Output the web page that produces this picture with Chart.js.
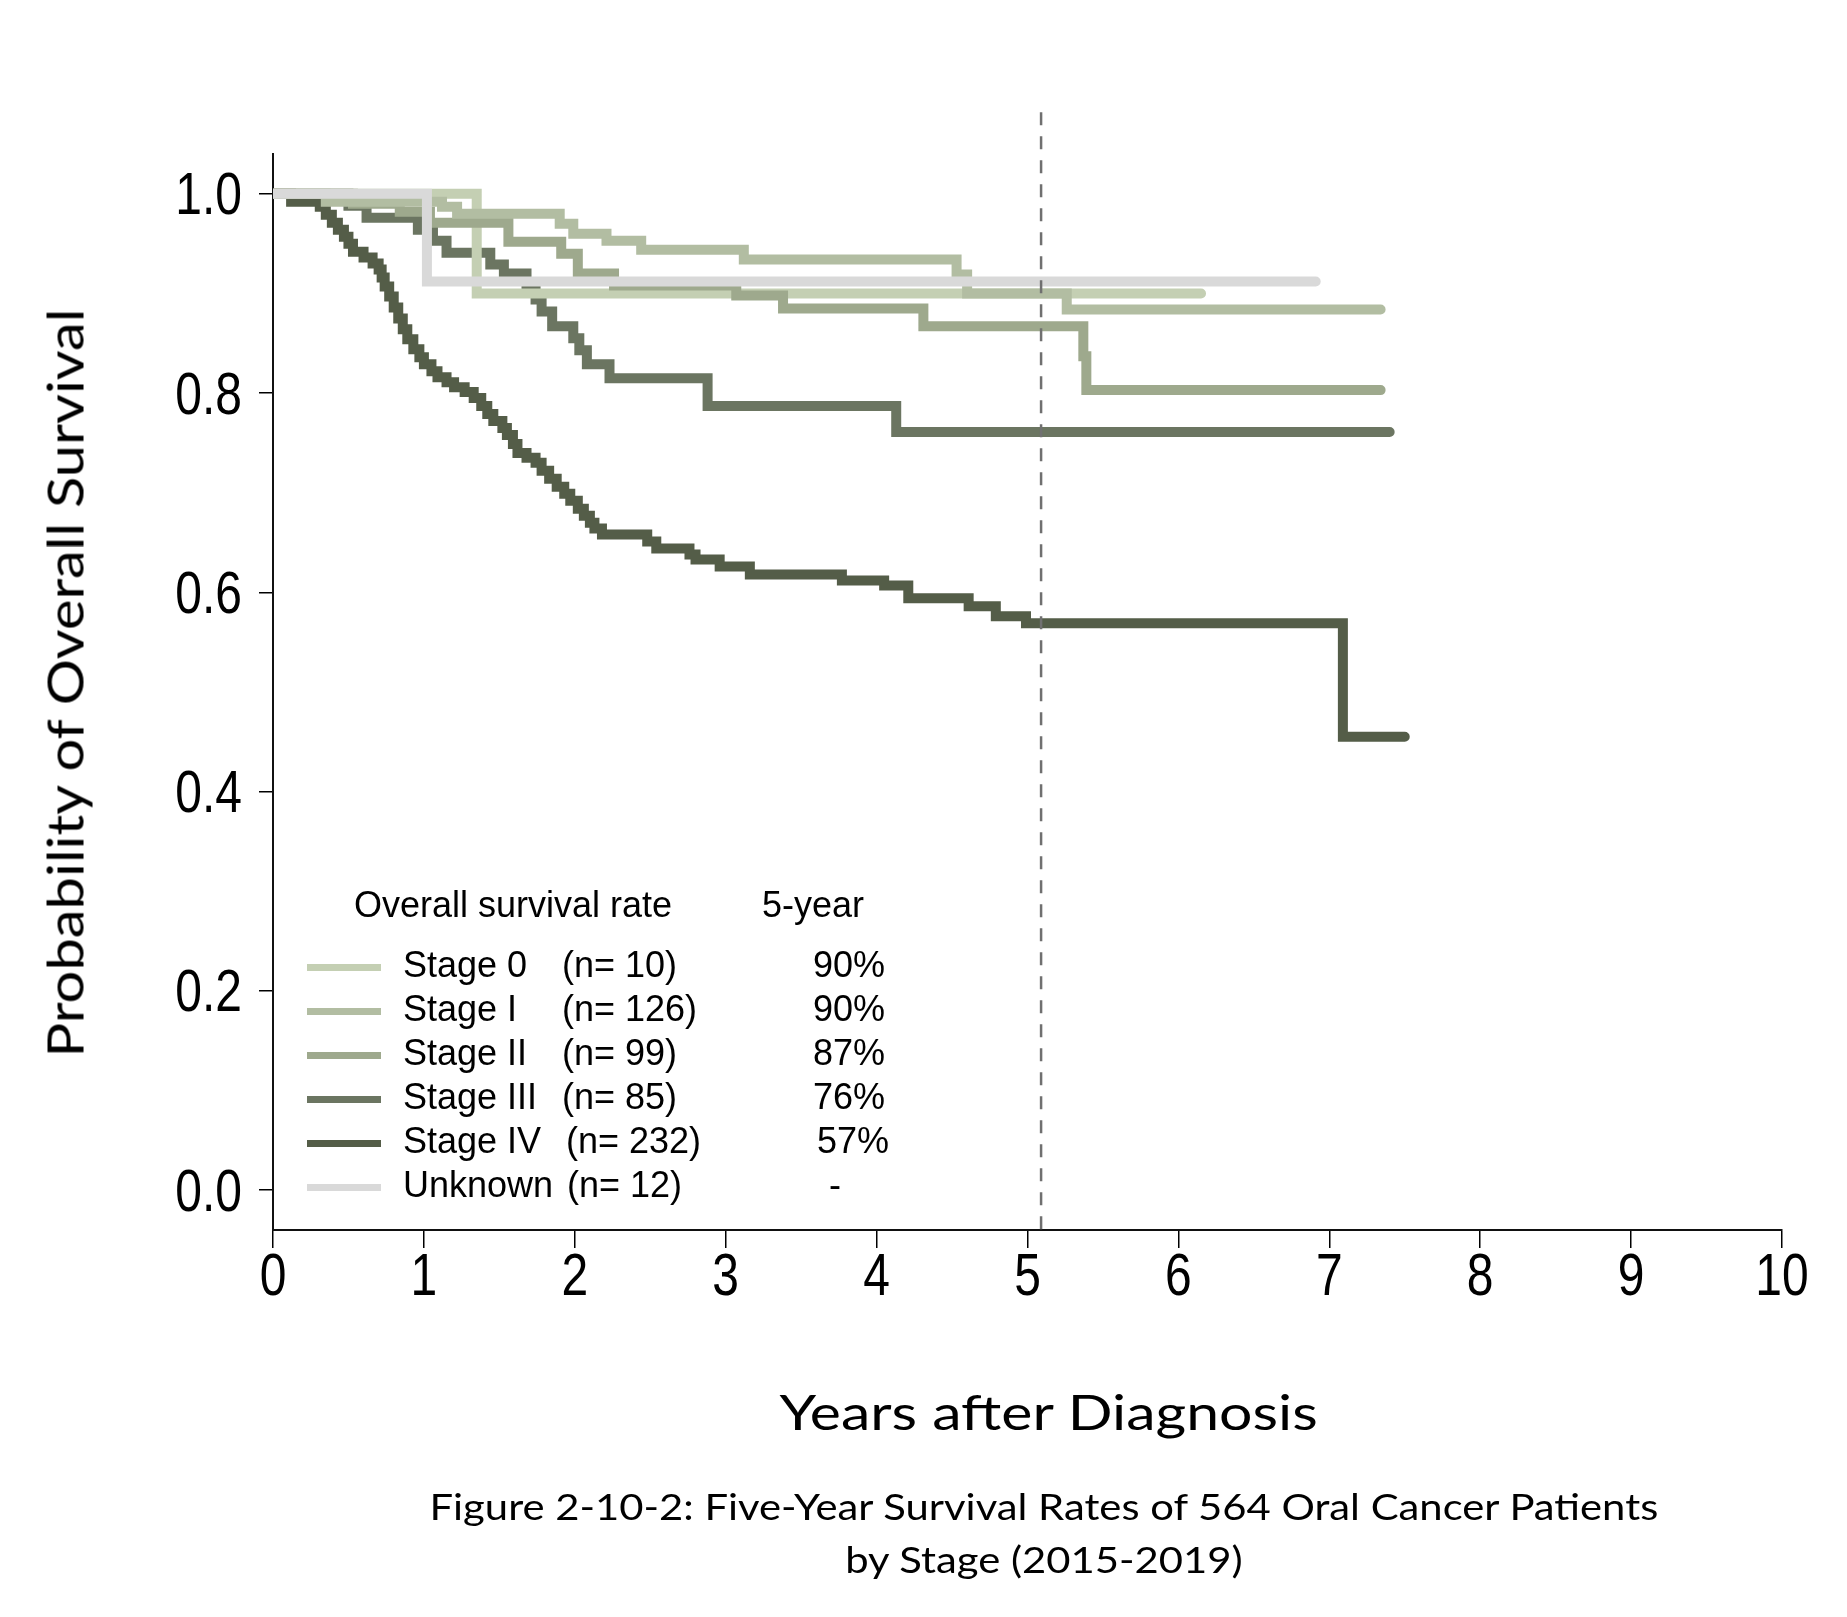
<!DOCTYPE html>
<html>
<head>
<meta charset="utf-8">
<script src="https://cdn.jsdelivr.net/npm/chart.js@4.4.1/dist/chart.umd.min.js"></script>
<style>
html,body{margin:0;padding:0;background:#fff;}
#wrap{position:relative;width:1847px;height:1617px;overflow:hidden;background:#fff;}
#c{position:absolute;left:0;top:0;}
.t{position:absolute;white-space:nowrap;line-height:1;color:#000;}
.lg{font-family:'Liberation Sans',Arial,sans-serif;font-size:36px;}
.ti{font-family:Lato,'Open Sans',sans-serif;}
.sw{position:absolute;height:7px;width:74px;}
</style>
</head>
<body>
<div id="wrap">
<canvas id="c" width="1847" height="1617"></canvas>
<div id="legend"></div>
<div id="ytitle" class="t ti" style="font-size:51px">Probability of Overall Survival</div>
<div id="xtitle" class="t ti" style="font-size:49px">Years after Diagnosis</div>
<div id="cap1" class="t ti" style="font-size:37px">Figure 2-10-2: Five-Year Survival Rates of 564 Oral Cancer Patients</div>
<div id="cap2" class="t ti" style="font-size:37px">by Stage (2015-2019)</div>
</div>
<script>
// ---------- data ----------
const stageNames = ['Stage 0', 'Stage I', 'Stage II', 'Stage III', 'Stage IV', 'Unknown'];
const stageN = ['(n= 10)', '(n= 126)', '(n= 99)', '(n= 85)', '(n= 232)', '(n= 12)'];
const fiveYearRates = ['90%', '90%', '87%', '76%', '57%', '-'];
const stageColors = ['#c4cfb3', '#b2bda2', '#9ea98d', '#6b7561', '#545d48', '#d9d9d9'];
const drawOrder = [3, 1, 2, 4, 5, 0];

const stage0Times = [0, 1.35, 6.15];
const stage0Surv  = [1.0, 0.900, 0.900];

const stage1Times = [0, 0.35, 1.12, 1.22, 1.90, 1.99, 2.21, 2.44, 3.12, 4.53, 4.60, 5.26, 7.34];
const stage1Surv  = [1.0, 0.992, 0.987, 0.980, 0.970, 0.960, 0.953, 0.944, 0.934, 0.919, 0.900, 0.884, 0.884];

const stage2Times = [0, 0.53, 0.84, 1.04, 1.56, 1.91, 2.02, 2.26, 3.07, 3.38, 4.31, 5.37, 5.39, 7.34];
const stage2Surv  = [1.0, 0.990, 0.982, 0.971, 0.952, 0.940, 0.920, 0.908, 0.898, 0.885, 0.867, 0.837, 0.803, 0.803];

const stage3Times = [0, 0.50, 0.62, 0.96, 1.06, 1.15, 1.44, 1.53, 1.68, 1.74, 1.78, 1.85, 1.99, 2.03, 2.08, 2.23, 2.88, 4.13, 7.40];
const stage3Surv  = [1.0, 0.988, 0.976, 0.964, 0.953, 0.941, 0.929, 0.920, 0.906, 0.894, 0.882, 0.867, 0.855, 0.843, 0.829, 0.815, 0.787, 0.761, 0.761];

const stage4Times = [0, 0.12, 0.31, 0.35, 0.39, 0.43, 0.47, 0.50, 0.53, 0.60, 0.66, 0.70, 0.72, 0.74, 0.77, 0.80, 0.83, 0.86, 0.89, 0.93, 0.97,
  1.00, 1.05, 1.09, 1.15, 1.20, 1.27, 1.33, 1.38, 1.42, 1.46, 1.52, 1.55, 1.59, 1.62, 1.68, 1.74, 1.78, 1.83, 1.88, 1.93, 1.97,
  2.02, 2.06, 2.10, 2.13, 2.18, 2.48, 2.54, 2.76, 2.80, 2.96, 3.16, 3.77, 4.05, 4.21, 4.61, 4.79, 4.99, 7.09, 7.50];
const stage4Surv  = [1.0, 0.992, 0.987, 0.979, 0.971, 0.964, 0.957, 0.950, 0.942, 0.936, 0.930, 0.924, 0.916, 0.907, 0.897, 0.886, 0.875, 0.864, 0.854, 0.844, 0.836,
  0.829, 0.822, 0.816, 0.811, 0.806, 0.801, 0.795, 0.787, 0.779, 0.772, 0.765, 0.758, 0.749, 0.740, 0.735, 0.730, 0.722, 0.714, 0.706, 0.699, 0.692,
  0.684, 0.677, 0.670, 0.664, 0.658, 0.651, 0.644, 0.638, 0.633, 0.626, 0.618, 0.612, 0.607, 0.594, 0.586, 0.576, 0.569, 0.455, 0.455];

const unknownTimes = [0, 1.02, 6.91];
const unknownSurv  = [1.0, 0.912, 0.912];

const xTicks = [0, 1, 2, 3, 4, 5, 6, 7, 8, 9, 10];
const yTicks = [0, 0.2, 0.4, 0.6, 0.8, 1.0];
const markerYear = 5.09;
const markerTop = 1.082;

const seriesTimes = [stage0Times, stage1Times, stage2Times, stage3Times, stage4Times, unknownTimes];
const seriesSurv  = [stage0Surv, stage1Surv, stage2Surv, stage3Surv, stage4Surv, unknownSurv];

// ---------- chart ----------
const tickFont = "'Liberation Sans',Arial,sans-serif";
const tickScaleX = 0.8; // condensed look of the original tick digits

const datasets = stageNames.map((name, i) => ({
  label: name,
  data: seriesTimes[i].map((t, k) => ({x: t, y: seriesSurv[i][k]})),
  borderColor: stageColors[i],
  backgroundColor: stageColors[i],
  borderWidth: 10,
  borderCapStyle: 'round',
  borderJoinStyle: 'miter',
  stepped: 'before',
  pointRadius: 0,
  fill: false,
  order: drawOrder[i]
}));

const markerPlugin = {
  id: 'marker',
  afterDatasetsDraw(chart) {
    const {ctx, scales: {x, y}} = chart;
    const px = x.getPixelForValue(markerYear);
    ctx.save();
    ctx.setLineDash([13, 11]);
    ctx.strokeStyle = '#707070';
    ctx.lineWidth = 2.5;
    ctx.beginPath();
    ctx.moveTo(px, y.getPixelForValue(markerTop));
    ctx.lineTo(px, y.getPixelForValue(y.min));
    ctx.stroke();
    ctx.restore();
  }
};

// condensed tick labels: draw each label text squeezed horizontally around its anchor
const narrowTextPlugin = {
  id: 'narrowText',
  beforeDraw(chart) {
    const ctx = chart.ctx;
    if (ctx._origFillText) return;
    const orig = ctx.fillText;
    ctx._origFillText = orig;
    ctx.fillText = function (text, x, y, maxW) {
      this.save();
      this.translate(x, y);
      this.scale(tickScaleX, 1);
      if (maxW !== undefined && maxW !== null) orig.call(this, text, 0, 0, maxW / tickScaleX);
      else orig.call(this, text, 0, 0);
      this.restore();
    };
  },
  afterDraw(chart) {
    const ctx = chart.ctx;
    if (ctx._origFillText) { ctx.fillText = ctx._origFillText; delete ctx._origFillText; }
  }
};

new Chart(document.getElementById('c'), {
  type: 'line',
  data: {datasets},
  options: {
    responsive: false,
    animation: false,
    devicePixelRatio: 1,
    layout: {padding: {left: 153, right: 65, top: 154, bottom: 287}},
    plugins: {legend: {display: false}, tooltip: {enabled: false}},
    scales: {
      x: {
        type: 'linear', min: 0, max: 10,
        afterBuildTicks: s => { s.ticks = xTicks.map(v => ({value: v})); },
        afterFit: s => { s.height = 100; },
        grid: {display: true, drawOnChartArea: false, drawTicks: true, tickLength: 18, color: '#000', lineWidth: 1.5},
        border: {display: true, color: '#111', width: 2},
        ticks: {color: '#000', font: {family: tickFont, size: 60, lineHeight: 1}, padding: 0, maxRotation: 0, autoSkip: false}
      },
      y: {
        type: 'linear', min: -0.04, max: 1.04,
        afterBuildTicks: s => { s.ticks = yTicks.map(v => ({value: v})); },
        afterFit: s => { s.width = 120; },
        grid: {display: true, drawOnChartArea: false, drawTicks: true, tickLength: 14, color: '#000', lineWidth: 1.5},
        border: {display: true, color: '#111', width: 2},
        ticks: {color: '#000', font: {family: tickFont, size: 60, lineHeight: 1}, padding: 17, autoSkip: false,
          labelOffset: 4, callback: v => Number(v).toFixed(1)}
      }
    }
  },
  plugins: [markerPlugin, narrowTextPlugin]
});

// ---------- legend (HTML text) ----------
const lg = document.getElementById('legend');
function addDiv(cls, text, css) {
  const d = document.createElement('div');
  d.className = cls;
  if (text !== null) d.textContent = text;
  Object.assign(d.style, css);
  lg.appendChild(d);
  return d;
}
addDiv('t lg', 'Overall survival rate', {left: '354px', top: '887px'});
addDiv('t lg', '5-year', {left: '762px', top: '887px'});
const nLeft = [562, 562, 562, 562, 566, 567];
const pctRight = [885, 885, 885, 885, 889, 0];
stageNames.forEach((name, i) => {
  const top = 947 + 44 * i;
  addDiv('sw', null, {left: '307px', top: (963.5 + 44 * i) + 'px', background: stageColors[i]});
  addDiv('t lg', name, {left: '403px', top: top + 'px'});
  addDiv('t lg', stageN[i], {left: nLeft[i] + 'px', top: top + 'px'});
  const p = addDiv('t lg', fiveYearRates[i], {top: top + 'px'});
  if (fiveYearRates[i] === '-') {
    p.style.left = (835 - p.offsetWidth / 2) + 'px';
  } else {
    p.style.left = (pctRight[i] - p.offsetWidth) + 'px';
  }
});

// ---------- titles ----------
function placeH(id, cx, top, targetW, sxForced) {
  const el = document.getElementById(id);
  const w = el.offsetWidth;
  const s = sxForced || targetW / w;
  el.style.left = (cx - w / 2) + 'px';
  el.style.top = top + 'px';
  el.style.transformOrigin = '50% 50%';
  el.style.transform = 'scaleX(' + s + ')';
  return s;
}
placeH('xtitle', 1048, 1387, 538);
const capScale = placeH('cap1', 1044, 1487, 1229);
placeH('cap2', 1044, 1540, 396, capScale);

(function () {
  const el = document.getElementById('ytitle');
  const w = el.offsetWidth, h = el.offsetHeight;
  const s = 749 / w;
  const cx = 64, cy = 683;
  el.style.left = '0px';
  el.style.top = '0px';
  el.style.transformOrigin = '50% 50%';
  el.style.transform = 'translate(' + (cx - w / 2) + 'px,' + (cy - h / 2) + 'px) rotate(-90deg) scaleX(' + s + ')';
})();
</script>
</body>
</html>
